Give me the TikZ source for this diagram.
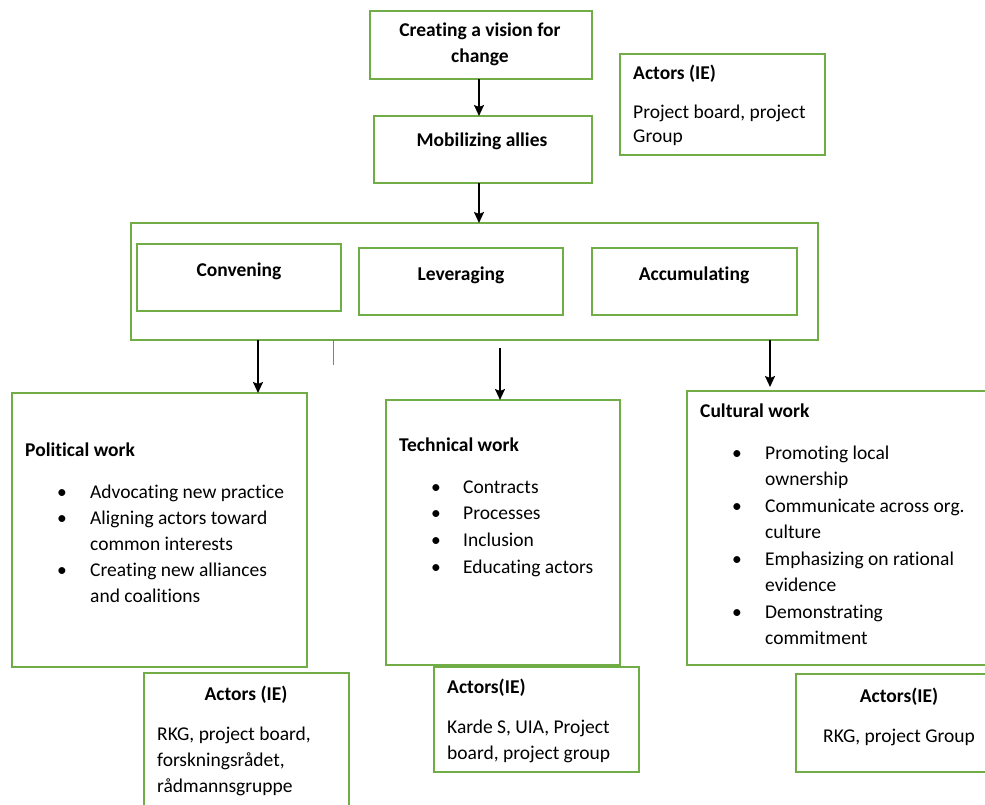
\documentclass[tikz,border=0pt]{standalone}
\usepackage{fontspec}
\setmainfont{Carlito}[Ligatures=NoCommon]
\usetikzlibrary{arrows.meta}
\definecolor{boxgreen}{HTML}{70AD47}
\tikzset{>={Stealth[length=11pt,width=10pt,inset=2pt]}}
\tikzset{
  box/.style={draw=boxgreen, line width=1.3pt, anchor=north west, inner sep=0pt, outer sep=0pt},
  txt/.style={font=\fontsize{19.5}{26}\selectfont, inner sep=0pt, anchor=base west},
  head/.style={txt, font=\fontsize{19.5}{26}\selectfont\bfseries},
  flow/.style={->, line width=2pt}
}

\begin{document}
\begin{tikzpicture}[x=1pt, y=-1pt]
\useasboundingbox (0,0) rectangle (985,805);

% boxes
\node[box, minimum width=222pt, minimum height=68pt] (vision) at (370,11) {};
\node[box, minimum width=205pt, minimum height=101pt] (topActors) at (620,54) {};
\node[box, minimum width=218pt, minimum height=67pt] (mobilize) at (374,116) {};
\node[box, minimum width=687pt, minimum height=117pt] (group) at (131,223) {};
\node[box, minimum width=204pt, minimum height=67pt] (convene) at (137,244) {};
\node[box, minimum width=204pt, minimum height=67pt] (leverage) at (359,248) {};
\node[box, minimum width=205pt, minimum height=67pt] (accum) at (592,248) {};
\node[box, minimum width=295pt, minimum height=274pt] (political) at (12,393) {};
\node[box, minimum width=234pt, minimum height=265pt] (technical) at (386,400) {};
\node[box, minimum width=316pt, minimum height=274pt] (cultural) at (687,391) {};
\node[box, minimum width=205pt, minimum height=140pt] (polActors) at (144,673) {};
\node[box, minimum width=205pt, minimum height=105pt] (techActors) at (434,667) {};
\node[box, minimum width=206pt, minimum height=98pt] (cultActors) at (796,674) {};

% top texts
\node[head, anchor=base] (visionA) at (480,37) {Creating a vision for};
\node[head, anchor=base] (visionB) at (480,63) {change};
\node[head, anchor=base] (mobilizeT) at (482,147) {Mobilizing allies};
\node[head] (topActorsT) at (633,80) {Actors (IE)};
\foreach \t [count=\i from 0] in {{Project board, project},Group}
  \node[txt] (topActors\i) at (633,119+24*\i) {\t};

% mobilizing strategies
\node[head, anchor=base] (conveneT) at (239,276) {Convening};
\node[head, anchor=base] (leverageT) at (461,280) {Leveraging};
\node[head, anchor=base] (accumT) at (694,280) {Accumulating};

% political work
\node[head] (politicalT) at (25,456) {Political work};
\foreach \t [count=\i from 0] in {Advocating new practice, Aligning actors toward,
    common interests, Creating new alliances, and coalitions}
  \node[txt] (pol\i) at (90,498+26*\i) {\t};
\foreach \y [count=\i] in {498,524,576}
  \node[txt, anchor=base] (polDot\i) at (62,\y) {\textbullet};
\node[head, anchor=base] (polActorsT) at (246,700) {Actors (IE)};
\foreach \t [count=\i from 0] in {{RKG, project board,},{forskningsrådet,},rådmannsgruppe}
  \node[txt] (polAct\i) at (157,740+26*\i) {\t};

% technical work
\node[head] (technicalT) at (399,451) {Technical work};
\foreach \t [count=\i from 0] in {Contracts, Processes, Inclusion, Educating actors}
  \node[txt] (tech\i) at (463,493+26.7*\i) {\t};
\foreach \i in {0,...,3}
  \node[txt, anchor=base] (techDot\i) at (436,493+26.7*\i) {\textbullet};
\node[head] (techActorsT) at (447,693) {Actors(IE)};
\foreach \t [count=\i from 0] in {{Karde S, UIA, Project},{board, project group}}
  \node[txt] (techAct\i) at (447,733+26*\i) {\t};

% cultural work
\node[head] (culturalT) at (700,417) {Cultural work};
\foreach \y/\t [count=\i] in {459/Promoting local, 485/ownership,
    512/Communicate across org., 538/culture, 565/Emphasizing on rational,
    591/evidence, 618/Demonstrating, 644/commitment}
  \node[txt] (cult\i) at (765,\y) {\t};
\foreach \y [count=\i] in {459,512,565,618}
  \node[txt, anchor=base] (cultDot\i) at (737,\y) {\textbullet};
\node[head, anchor=base] (cultActorsT) at (899,702) {Actors(IE)};
\node[txt, anchor=base] (cultAct) at (899,742) {RKG, project Group};

% arrows
\coordinate (midArrow) at (479,0);
\coordinate (polArrow) at (258,0);
\coordinate (techArrow) at (500,0);
\coordinate (cultArrow) at (770,0);
\coordinate (stub) at (333,0);
\draw[flow] (vision.south -| midArrow) -- (mobilize.north -| midArrow);
\draw[flow] (mobilize.south -| midArrow) -- (group.north -| midArrow);
\draw[flow] (group.south -| polArrow) -- (political.north -| polArrow);
\draw[flow] ([yshift=-8pt]group.south -| techArrow) -- (technical.north -| techArrow);
\draw[flow] (group.south -| cultArrow) -- ([yshift=4pt]cultural.north -| cultArrow);
\draw[gray, line width=0.8pt] (group.south -| stub) -- ++(0,25);
\end{tikzpicture}
\end{document}
